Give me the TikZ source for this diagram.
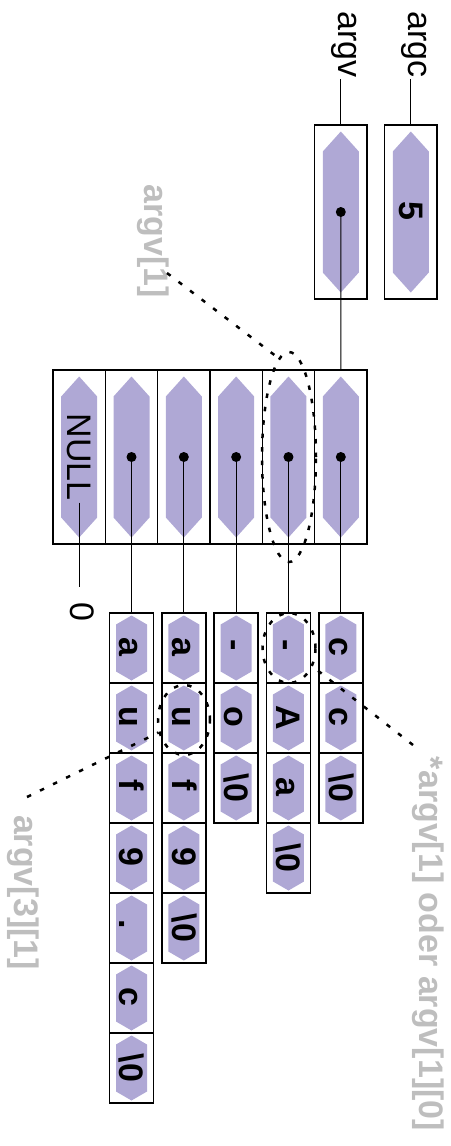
\documentclass[tikz,border=0pt]{standalone}
\usepackage{fontspec}
\setmainfont{Liberation Sans}
\usepackage{graphicx}
\usetikzlibrary{shapes.geometric}
\definecolor{hexcol}{RGB}{175,168,213}
\definecolor{lblgray}{RGB}{190,190,190}
\newcommand\rottxt[1]{\rotatebox[origin=c]{-90}{\vphantom{A}\smash{#1}}}
\newcommand\bsz{\textbackslash 0}
\newcommand\strcol[2]{%
  \foreach \chr [count=\rr from 0] in {#2} {%
    \node[charcell] (c#1r\rr) at ({79.17+52.33*#1},{648+70*\rr}) {\rottxt{\chr}};%
  }%
}
\begin{document}
\begin{tikzpicture}[x=1pt,y=-1pt,
  bigfont/.style={font=\fontsize{34}{40}\selectfont},
  boldfont/.style={font=\bfseries\fontsize{34}{40}\selectfont},
  bighex/.style={path picture={\fill[hexcol] ([yshift=80.5pt]path picture bounding box.center)
      -- ++(18pt,-20pt) -- ++(0,-121pt) -- ++(-18pt,-20pt) -- ++(-18pt,20pt) -- ++(0,121pt) -- cycle;}},
  smallhex/.style={path picture={\fill[hexcol] ([yshift=32.5pt]path picture bounding box.center)
      -- ++(15.5pt,-9pt) -- ++(0,-47pt) -- ++(-15.5pt,-9pt) -- ++(-15.5pt,9pt) -- ++(0,47pt) -- cycle;}},
  ptrcell/.style={draw, line width=1.4pt, minimum width=52.33pt, minimum height=174pt, inner sep=0pt, bighex, boldfont},
  charcell/.style={draw, line width=1.4pt, minimum width=44pt, minimum height=70pt, inner sep=0pt, smallhex, boldfont},
  conn/.style={line width=1.1pt},
  dotline/.style={line width=2.5pt, dash pattern=on 4.5pt off 10pt},
  dotell/.style={draw, ellipse, inner sep=0pt, line width=2.5pt, dash pattern=on 4.5pt off 9pt},
  graylbl/.style={rotate=-90, anchor=mid, inner sep=1pt, text=lblgray, boldfont},
  varlbl/.style={rotate=-90, anchor=mid east, inner sep=1pt, bigfont}
]
\useasboundingbox (0,0) rectangle (450,1146);

% argc / argv variables
\node[ptrcell] (argcbox) at (410.8,212) {\rottxt{5}};
\node[ptrcell] (argvbox) at (340.8,212) {};
\node[varlbl] (argclbl) at (410.8,79) {argc};
\node[varlbl] (argvlbl) at (340.8,79) {argv};
\draw[conn] (argclbl.mid east) -- (argcbox.north);
\draw[conn] (argvlbl.mid east) -- (argvbox.north);

% pointer array
\foreach \k in {0,...,5} {
  \node[ptrcell] (p\k) at ({79.17+52.33*\k},457) {};
}
\node[inner sep=2pt, font=\fontsize{34}{40}\selectfont] (nulltxt) at (p0.center) {\rottxt{NULL}};
\coordinate (nullend) at (79.17,587);
\node[rotate=-90, inner sep=0pt, bigfont] (zero) at (82.5,612) {0};
\draw[conn] (nulltxt.south) -- (nullend);

% strings
\strcol{5}{c,c,\bsz}
\strcol{4}{-,A,a,\bsz}
\strcol{3}{-,o,\bsz}
\strcol{2}{a,u,f,9,\bsz}
\strcol{1}{a,u,f,9,.,c,\bsz}

% pointers
\draw[conn] (argvbox.center) -- (p5.north);
\fill (argvbox.center) circle (5pt);
\foreach \k in {1,...,5} {
  \draw[conn] (p\k.center) -- (c\k r0.north);
  \fill (p\k.center) circle (5pt);
}

% annotations
\node[dotell, minimum width=54pt, minimum height=210pt] (e1) at (289,457) {};
\node[dotell, minimum width=53pt, minimum height=70pt] (e2) at (289,648) {};
\node[dotell, minimum width=52pt, minimum height=70pt] (e3) at (184,720) {};

\node[graylbl] (lbl1) at (147.5,241.5) {argv[1]};
\node[graylbl] (lbl2) at (422.6,944) {*argv[1] oder argv[1][0]};
\node[graylbl] (lbl3) at (17.6,892.5) {argv[3][1]};

\coordinate (d1s) at (167,273);
\coordinate (d2s) at (413,745);
\coordinate (d3s) at (27,797);
\draw[dotline] (d1s) -- (e1.96);
\draw[dotline] (d2s) -- (e2);
\draw[dotline] (d3s) -- (e3);
\end{tikzpicture}
\end{document}
